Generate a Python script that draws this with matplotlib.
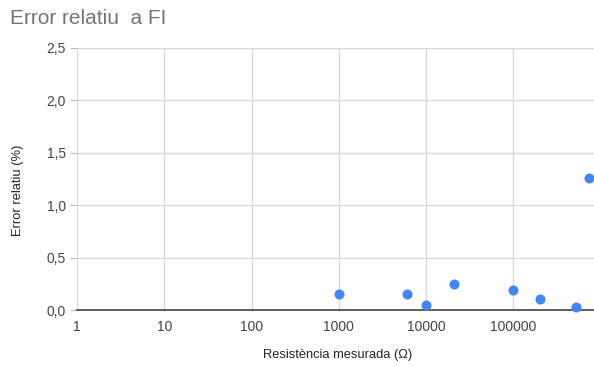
import numpy as np
import matplotlib.pyplot as plt
from matplotlib.ticker import FuncFormatter, FixedLocator

plt.rcParams['font.family'] = ['Liberation Sans', 'DejaVu Sans']

# measured resistance (ohm) and relative error (%)
resistencia = [1000, 6000, 10000, 21000, 100000, 200000, 524000, 743000]
error_rel = [0.153, 0.153, 0.048, 0.245, 0.19, 0.105, 0.03, 1.264]

x_ticks = [1, 10, 100, 1000, 10000, 100000]
y_ticks = [0.0, 0.5, 1.0, 1.5, 2.0, 2.5]

fig = plt.figure(figsize=(5.94, 3.66), dpi=100)
ax = fig.add_axes([0.1296, 0.153, 0.8704, 0.716])

ax.scatter(resistencia, error_rel, s=52, color='#4285F4', zorder=3,
           linewidths=0, clip_on=False)

ax.set_xscale('log')
ax.set_xlim(1, 10 ** 5.925)
ax.set_ylim(0, 2.5)
ax.xaxis.set_major_locator(FixedLocator(x_ticks))
ax.xaxis.set_minor_locator(FixedLocator([]))
ax.xaxis.set_major_formatter(FuncFormatter(lambda v, p: '%d' % round(v)))
ax.yaxis.set_major_locator(FixedLocator(y_ticks))
ax.yaxis.set_major_formatter(FuncFormatter(lambda v, p: ('%.1f' % v).replace('.', ',')))

ax.grid(True, color='#d9d9d9', linewidth=1)
ax.set_axisbelow(True)
for side in ['top', 'right', 'left']:
    ax.spines[side].set_visible(False)
ax.spines['bottom'].set_color('#444444')
ax.spines['bottom'].set_linewidth(1.2)

ax.tick_params(axis='x', length=0, pad=7, labelsize=10, labelcolor='#444444')
ax.tick_params(axis='y', length=5, width=0.8, color='#bbbbbb', pad=3,
               labelsize=10, labelcolor='#444444')

ax.set_xlabel('Resistència mesurada (Ω)', fontsize=9.3, color='#222222')
ax.set_ylabel('Error relatiu (%)', fontsize=9.3, color='#222222')
ax.xaxis.set_label_coords(0.505, -0.149)
ax.yaxis.set_label_coords(-0.1025, 0.458)

fig.text(0.017, 0.95, 'Error relatiu  a FI', fontsize=15, color='#757575',
         ha='left', va='center')

fig.savefig('out.png', dpi=100)
